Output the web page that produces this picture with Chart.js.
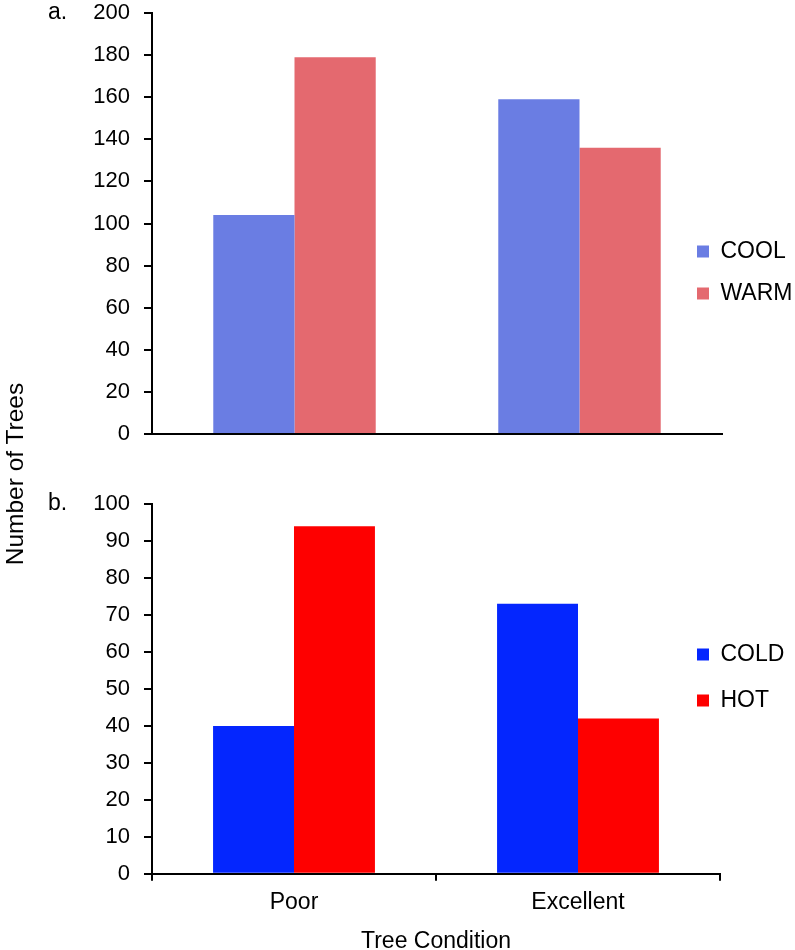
<!DOCTYPE html>
<html>
<head>
<meta charset="utf-8">
<script src="https://cdn.jsdelivr.net/npm/chart.js@4.4.1/dist/chart.umd.min.js"></script>
<style>
  html, body { margin: 0; padding: 0; background: #fff; overflow: hidden; }
  body { width: 795px; height: 950px; position: relative; font-family: "Liberation Sans", Arial, sans-serif; color: #000; }
  canvas { position: absolute; left: 0; }
  #top { top: 0; }
  #bottom { top: 450px; }
  .lbl { position: absolute; font-size: 23px; line-height: 24px; white-space: nowrap; }
  #ylab { left: -135px; top: 462px; width: 300px; text-align: center; font-size: 24.5px; transform: rotate(-90deg); }
</style>
</head>
<body>
<canvas id="top" width="795" height="450"></canvas>
<canvas id="bottom" width="795" height="505"></canvas>
<div class="lbl" style="left:48px; top:-1px;">a.</div>
<div class="lbl" style="left:48px; top:490px;">b.</div>
<div class="lbl" id="ylab">Number of Trees</div>
<script>
const conditions = ['Poor', 'Excellent']

const coolTrees = [104, 159]
const warmTrees = [179, 136]
const coldTrees = [40, 73]
const hotTrees = [94, 42]

const topTicks = [0, 200, 20]     // min, max, step
const bottomTicks = [0, 100, 10]

Chart.defaults.font.family = '"Liberation Sans", Arial, sans-serif'
Chart.defaults.color = '#000'

// the legend sits partly over the plot width in the original, so move it after layout
const placeLegend = {
    id: 'placeLegend',
    afterLayout(chart, args, opts){
        const lg = chart.legend
        const h = lg.bottom - lg.top
        lg.left = opts.left
        lg.right = chart.width
        lg.width = lg.right - lg.left
        lg.top = opts.top
        lg.bottom = opts.top + h
    }
}

function make_chart(id, names, colors, values, ticks, opts){
    const ctx = document.getElementById(id).getContext('2d')
    return new Chart(ctx, {
        type: 'bar',
        data: {
            labels: conditions,
            datasets: [{
                label: names[0],
                data: values[0],
                backgroundColor: colors[0],
                categoryPercentage: 0.57,
                barPercentage: 1.0
            }, {
                label: names[1],
                data: values[1],
                backgroundColor: colors[1],
                categoryPercentage: 0.57,
                barPercentage: 1.0
            }]
        },
        plugins: [placeLegend],
        options: {
            responsive: false,
            animation: false,
            devicePixelRatio: 1,
            layout: { padding: opts.padding },
            plugins: {
                tooltip: { enabled: false },
                legend: {
                    position: 'right',
                    align: 'start',
                    maxWidth: opts.legendWidth,
                    labels: {
                        boxWidth: 12,
                        boxHeight: 12,
                        padding: opts.legendGap,
                        font: { size: 23 }
                    }
                },
                placeLegend: opts.legendAt
            },
            scales: {
                x: {
                    grid: {
                        display: opts.showX,
                        drawOnChartArea: false,
                        drawTicks: opts.showX,
                        tickLength: 7,
                        color: '#000',
                        lineWidth: 2
                    },
                    border: { display: true, color: '#000', width: 2 },
                    ticks: { display: opts.showX, font: { size: 23 }, padding: 8 },
                    title: {
                        display: opts.showX,
                        text: 'Tree Condition',
                        font: { size: 23 },
                        padding: { top: 3, bottom: 0 }
                    }
                },
                y: {
                    min: ticks[0],
                    max: ticks[1],
                    afterFit: function(scale){
                        scale.width = 152
                        // tick padding is meant sideways only, keep it out of the top/bottom room
                        scale.paddingTop = 0
                        scale.paddingBottom = 0
                    },
                    grid: {
                        drawOnChartArea: false,
                        drawTicks: true,
                        tickLength: 8,
                        color: '#000',
                        lineWidth: 2
                    },
                    border: { display: true, color: '#000', width: 2 },
                    ticks: {
                        stepSize: ticks[2],
                        padding: 14,
                        font: { size: 22 }
                    }
                }
            }
        }
    })
}

make_chart('top', ['COOL', 'WARM'], ['#6A7DE3', '#E4696F'], [coolTrees, warmTrees], topTicks, {
    padding: { top: 13, bottom: 16, left: 0, right: 0 },
    legendWidth: 73,
    legendGap: 19,
    legendAt: { left: 678, top: 221 },
    showX: false
})

make_chart('bottom', ['COLD', 'HOT'], ['#0426FE', '#FE0000'], [coldTrees, hotTrees], bottomTicks, {
    padding: { top: 54, bottom: 0, left: 0, right: 0 },
    legendWidth: 75,
    legendGap: 23,
    legendAt: { left: 674, top: 170 },
    showX: true
})
</script>
</body>
</html>
